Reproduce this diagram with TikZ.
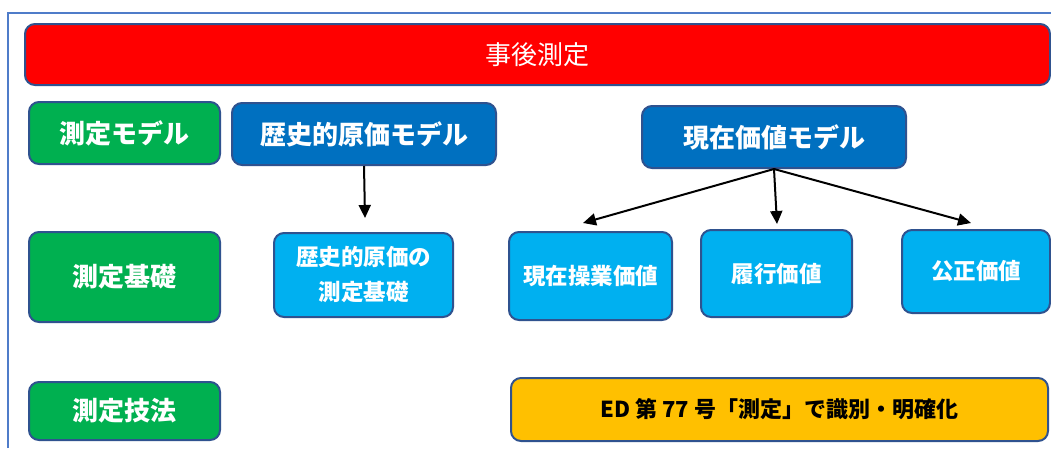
\documentclass[tikz,border=0pt]{standalone}
\usepackage{fontspec}
\setmainfont{Noto Sans CJK JP}
\usetikzlibrary{arrows.meta}
\definecolor{bordc}{HTML}{2F528F}
\definecolor{framec}{HTML}{4F7CC9}
\definecolor{redc}{HTML}{FF0000}
\definecolor{greenc}{HTML}{00B050}
\definecolor{dbluec}{HTML}{0070C0}
\definecolor{lbluec}{HTML}{00B0F0}
\definecolor{yellowc}{HTML}{FFC000}
\tikzset{
  box/.style={draw=bordc, line width=2pt, rounded corners=10pt, inner sep=0pt, align=center, text=white},
  lbl/.style={box, fill=greenc, font=\fontsize{26}{30}\selectfont\bfseries},
  model/.style={box, fill=dbluec, font=\fontsize{26}{30}\selectfont\bfseries},
  basis/.style={box, fill=lbluec, font=\fontsize{22.5}{35}\selectfont\bfseries},
  conn/.style={line width=2pt, -{Triangle[length=13pt,width=12pt]}}
}
\begin{document}
\begin{tikzpicture}[x=1pt,y=-1pt]
\useasboundingbox (0,0) rectangle (1051,448);
\fill[white] (0,0) rectangle (1051,448);
\draw[framec, line width=1.5pt] (8,448) -- (8,13) -- (1051,13);
\node[box, fill=redc, minimum width=1025pt, minimum height=61pt, font=\fontsize{26}{30}\selectfont] (title) at (537.5,54.5) {事後測定};
\node[lbl, minimum width=191pt, minimum height=62pt] (m1) at (124.5,133) {測定モデル};
\node[lbl, minimum width=191pt, minimum height=90pt] (m2) at (124.5,277) {測定基礎};
\node[lbl, minimum width=191pt, minimum height=58pt] (m3) at (124.5,411) {測定技法};
\node[model, minimum width=264pt, minimum height=62pt] (hist) at (364,134) {歴史的原価モデル};
\node[model, minimum width=264pt, minimum height=62pt] (pv) at (774,137) {現在価値モデル};
\node[basis, minimum width=179pt, minimum height=84pt] (histb) at (363.5,275) {歴史的原価の\\測定基礎};
\node[basis, minimum width=163pt, minimum height=88pt] (cov) at (590.5,276) {現在操業価値};
\node[basis, minimum width=151pt, minimum height=87pt] (ful) at (776.5,273.5) {履行価値};
\node[basis, minimum width=148pt, minimum height=83pt] (fv) at (976,271.5) {公正価値};
\node[box, fill=yellowc, text=black, minimum width=537pt, minimum height=63pt, font=\fontsize{22}{26}\selectfont\bfseries] (ed) at (779.5,409.5) {ED 第 77 号「測定」で識別・明確化};
\coordinate (t0) at (365,218);
\coordinate (t1) at (583,223);
\coordinate (t2) at (777,224);
\coordinate (t3) at (971,223);
\draw[conn] (hist.south) -- (t0);
\draw[conn] (pv.south) -- (t1);
\draw[conn] (pv.south) -- (t2);
\draw[conn] (pv.south) -- (t3);
\end{tikzpicture}
\end{document}
